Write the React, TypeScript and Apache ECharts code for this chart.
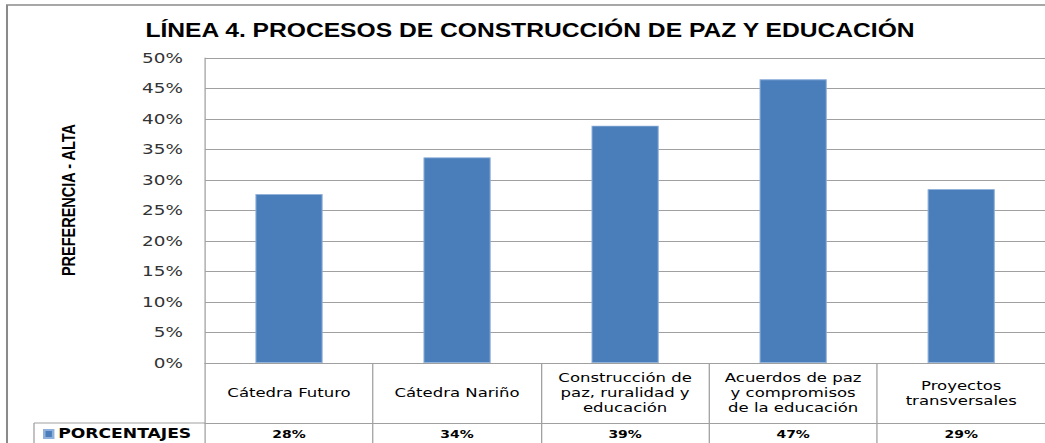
import React, { useEffect, useRef } from "react";
import * as echarts from "echarts";

// ---- data ----
const categories: string[] = [
  "Cátedra Futuro",
  "Cátedra Nariño",
  "Construcción de\npaz, ruralidad y\neducación",
  "Acuerdos de paz\ny compromisos\nde la educación",
  "Proyectos\ntransversales",
];
const values: number[] = [27.7, 33.7, 38.9, 46.5, 28.5];
const seriesName = "PORCENTAJES";
const titleText = "LÍNEA 4. PROCESOS DE CONSTRUCCIÓN DE PAZ Y EDUCACIÓN";
const yAxisName = "PREFERENCIA - ALTA";
const yMin = 0;
const yMax = 50;
const yStep = 5;

// the reference image is horizontally stretched
const S = 1.27;
const W = 1045;
const H = 443;
const IW = W / S;

const GRID = "#a0a0a0";

export default function App() {
  const ref = useRef<HTMLDivElement>(null);
  useEffect(() => {
    document.body.style.margin = "0";
    if (!ref.current) return;
    const chart = echarts.init(ref.current, undefined, { renderer: "svg" });
    const X = (x: number) => x / S;
    const plotLeft = X(205);
    const catW = X(170.5);
    chart.setOption({
      animation: false,
      backgroundColor: "#ffffff",
      grid: { left: plotLeft, top: 58, width: catW * 5, height: 305, containLabel: false },
      legend: {
        show: true,
        left: X(43),
        top: 427,
        padding: 0,
        itemWidth: 7,
        itemHeight: 8,
        icon: "rect",
        data: [seriesName],
        textStyle: {
          fontFamily: "DejaVu Sans",
          fontWeight: "bold",
          fontSize: 13.5,
          color: "#000",
          lineHeight: 14,
          padding: [0, 0, 0, -1],
        },
      },
      xAxis: [
        {
          type: "category",
          data: categories,
          position: "bottom",
          axisLine: { show: true, lineStyle: { color: GRID, width: 1 } },
          axisTick: { show: true, length: 82, interval: 0, lineStyle: { color: GRID, width: 1 } },
          axisLabel: {
            interval: 0,
            margin: 30,
            verticalAlign: "middle",
            align: "center",
            lineHeight: 15,
            fontSize: 13,
            fontFamily: "DejaVu Sans",
            color: "#000",
          },
        },
        {
          type: "category",
          data: values.map((v) => Math.round(v) + "%"),
          position: "bottom",
          offset: 60,
          axisLine: { show: true, lineStyle: { color: GRID, width: 1 } },
          axisTick: { show: false },
          axisLabel: {
            interval: 0,
            margin: 11,
            verticalAlign: "middle",
            fontSize: 11,
            fontWeight: "bold",
            fontFamily: "DejaVu Sans",
            color: "#000",
          },
        },
      ],
      yAxis: {
        type: "value",
        min: yMin,
        max: yMax,
        interval: yStep,
        axisLine: { show: true, lineStyle: { color: GRID, width: 1 } },
        axisTick: { show: false },
        splitLine: { show: true, lineStyle: { color: GRID, width: 1 } },
        axisLabel: {
          formatter: "{value}%",
          margin: X(22),
          fontSize: 14.5,
          fontFamily: "DejaVu Sans",
          color: "#333",
        },
      },
      series: [
        {
          name: seriesName,
          type: "bar",
          xAxisIndex: 0,
          data: values,
          barWidth: "40%",
          itemStyle: { color: "#4a7ebb", borderColor: "#8fb0da", borderWidth: 0.8 },
        },
      ],
      graphic: [
        {
          type: "rect",
          shape: { x: X(7), y: 5, width: 2000, height: 2000 },
          style: { fill: "none", stroke: "#8a8a8a", lineWidth: 1.6 },
          silent: true,
          z: -1,
        },
        {
          type: "text",
          x: X(530),
          y: 30,
          style: {
            text: titleText,
            fontFamily: "Liberation Sans",
            fontWeight: "bold",
            fontSize: 19.4,
            fill: "#000",
            align: "center",
            verticalAlign: "middle",
          },
        },
        {
          type: "text",
          x: X(68.8),
          y: 200,
          rotation: Math.PI / 2,
          style: {
            text: yAxisName,
            fontFamily: "Liberation Sans",
            fontWeight: "bold",
            fontSize: 14.5,
            fill: "#000",
            align: "center",
            verticalAlign: "middle",
          },
        },
        {
          type: "line",
          shape: { x1: X(34), y1: 423, x2: plotLeft, y2: 423 },
          style: { stroke: GRID, lineWidth: 1 },
        },
        {
          type: "line",
          shape: { x1: X(34), y1: 423, x2: X(34), y2: 460 },
          style: { stroke: GRID, lineWidth: 1 },
        },
      ],
    });
    return () => chart.dispose();
  }, []);
  return (
    <div style={{ width: W, height: H, overflow: "hidden", position: "relative", background: "#fff" }}>
      <div
        ref={ref}
        style={{
          width: IW,
          height: H,
          transform: `scaleX(${S})`,
          transformOrigin: "0 0",
        }}
      />
    </div>
  );
}
